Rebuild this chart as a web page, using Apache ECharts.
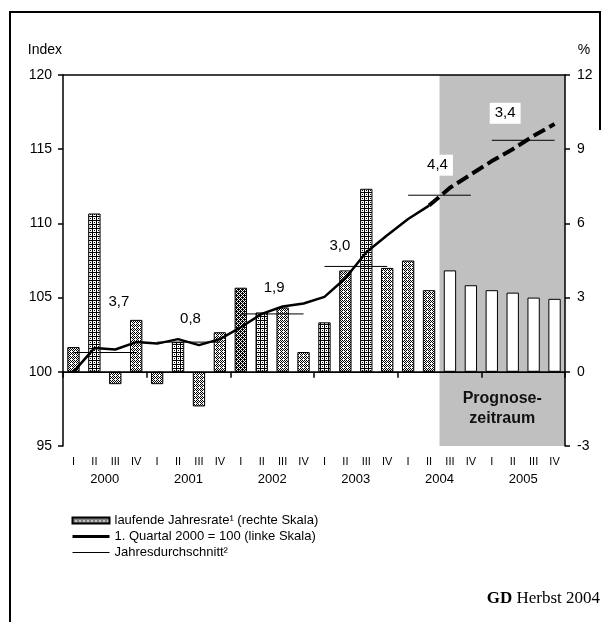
<!DOCTYPE html>
<html><head><meta charset="utf-8">
<script src="https://cdn.jsdelivr.net/npm/echarts@6/dist/echarts.min.js"></script>
<style>html,body{margin:0;padding:0;background:#fff}#c{width:608px;height:622px}</style>
</head><body><div id="c"></div>
<script>
// ---------------- data ----------------
const quarters = ['I', 'II', 'III', 'IV'];
const years = ['2000', '2001', '2002', '2003', '2004', '2005'];
// laufende Jahresrate in % (right scale), 2000 I .. 2005 IV
const growthRate = [1.0, 6.4, -0.5, 2.1, -0.5, 1.2, -1.4, 1.6, 3.4, 2.4, 2.6, 0.8,
                    2.0, 4.1, 7.4, 4.2, 4.5, 3.3, 4.1, 3.5, 3.3, 3.2, 3.0, 2.95];
// Index, 1. Quartal 2000 = 100 (left scale), actual 2000 I .. 2004 II
const indexActual = [100.0, 101.6, 101.5, 102.0, 101.9, 102.2, 101.8, 102.2, 103.0, 103.9, 104.4, 104.6,
                     105.05, 106.3, 108.05, 109.2, 110.3, 111.2];
// Index forecast, 2004 II .. 2005 IV
const indexForecast = [111.2, 112.4, 113.3, 114.2, 115.0, 115.9, 116.7];
// Jahresdurchschnitt (left scale) and annual growth labels
const annualAvg = [101.3, 102.0, 103.9, 107.1, 111.9, 115.6];
const annualGrowth = ['3,7', '0,8', '1,9', '3,0', '4,4', '3,4'];
const leftTicks = { min: 95, max: 120, interval: 5 };
const rightTicks = { min: -3, max: 12, interval: 3 };
const forecastStart = 18; // first forecast quarter: 2004 III

// ---------------- build ----------------
const categories = [];
years.forEach(y => quarters.forEach(q => categories.push(y + ' ' + q)));
const nQ = categories.length;

function makePattern(rows) {
  const c = document.createElement('canvas');
  c.width = rows[0].length; c.height = rows.length;
  const ctx = c.getContext('2d');
  ctx.fillStyle = '#fff'; ctx.fillRect(0, 0, c.width, c.height);
  ctx.fillStyle = '#000';
  rows.forEach((r, y) => { for (let x = 0; x < r.length; x++) if (r[x] === 'x') ctx.fillRect(x, y, 1, 1); });
  return { image: c, repeat: 'repeat' };
}
const dotPat = makePattern(['x.x.', '.x.x', 'x.x.', '.x..']);
const gridPat = makePattern(['xxxx', 'x...', 'x.x.', 'x...']);
const darkPat = makePattern(['x.x.', '.xxx', 'x.x.', 'xx.x']);
const gridBars = [1, 5, 9, 12, 14];
const darkBars = [8];

const barName = 'laufende Jahresrate\u00b9 (rechte Skala)';
const lineName = '1. Quartal 2000 = 100 (linke Skala)';
const avgName = 'Jahresdurchschnitt\u00b2';

const font = 'Liberation Sans, Arial, sans-serif';
const labelOffsets = [[14, -51], [2, -23], [2, -26], [-16, -21], [-2, -30], [-18, -27]];

const dashedData = categories.map((c, i) => i >= forecastStart - 1 ? indexForecast[i - (forecastStart - 1)] : null);

const series = [];
// forecast shading
series.push({
  type: 'line', xAxisIndex: 2, yAxisIndex: 0, z: 1, silent: true,
  data: [[forecastStart, leftTicks.min]], symbol: 'none', lineStyle: { opacity: 0 },
  markArea: {
    silent: true,
    itemStyle: { color: '#c0c0c0' },
    label: {
      show: true, position: 'insideBottom', distance: 17,
      formatter: 'Prognose-\nzeitraum', fontWeight: 'bold', fontSize: 16, lineHeight: 20,
      color: '#111', fontFamily: font
    },
    data: [[{ xAxis: forecastStart, yAxis: leftTicks.min }, { xAxis: nQ, yAxis: leftTicks.max }]]
  }
});
// bars
series.push({
  type: 'bar', name: barName, xAxisIndex: 0, yAxisIndex: 1, z: 2, barWidth: '59%',
  itemStyle: { color: dotPat, borderColor: '#000', borderWidth: 1 },
  data: growthRate.map((v, i) => ({
    value: v,
    itemStyle: {
      color: i >= forecastStart ? '#fff' : gridBars.includes(i) ? gridPat : darkBars.includes(i) ? darkPat : dotPat
    }
  })),
  markLine: {
    silent: true, symbol: 'none', label: { show: false },
    lineStyle: { color: '#000', width: 1, type: 'solid' },
    data: [{ yAxis: 0 }]
  }
});
// index line
series.push({
  type: 'line', name: lineName, xAxisIndex: 0, yAxisIndex: 0, z: 4,
  data: indexActual, symbol: 'none', itemStyle: { color: '#000' },
  lineStyle: { color: '#000', width: 2.5 }
});
series.push({
  type: 'line', name: 'Prognose', xAxisIndex: 0, yAxisIndex: 0, z: 4,
  data: dashedData, symbol: 'none', itemStyle: { color: '#000' },
  lineStyle: { color: '#000', width: 4, type: [13, 5] }
});
// annual averages
annualAvg.forEach((v, i) => {
  series.push({
    type: 'line', name: avgName, xAxisIndex: 2, yAxisIndex: 0, z: 4,
    data: [[i * 4 + 0.5, v], [i * 4 + 3.5, v]], symbol: 'none', itemStyle: { color: '#000' },
    lineStyle: { color: '#000', width: 1 }
  });
});
// annual growth labels
series.push({
  type: 'scatter', name: 'labels', xAxisIndex: 2, yAxisIndex: 0, z: 5, silent: true,
  symbolSize: 1, itemStyle: { color: 'rgba(0,0,0,0)', opacity: 1 },
  label: { show: true, position: 'inside', fontSize: 15, color: '#000', fontFamily: font },
  data: annualAvg.map((v, i) => ({
    value: [i * 4 + 2, v],
    label: {
      show: true, position: 'inside', offset: labelOffsets[i],
      formatter: annualGrowth[i], fontSize: 15, color: '#000', fontFamily: font,
      backgroundColor: i >= 4 ? '#fff' : 'transparent', padding: i >= 4 ? [3, 5] : 0
    }
  }))
});

const axisLineStyle = { show: true, lineStyle: { color: '#000', width: 1.5 } };
const noSymbol = { color: 'rgba(0,0,0,0)', borderWidth: 0 };
const option = {
  animation: false,
  backgroundColor: '#fff',
  textStyle: { fontFamily: font, color: '#000' },
  grid: { left: 63, right: 43, top: 75, bottom: 176 },
  legend: {
    orient: 'vertical', left: 66, top: 509, itemGap: 3, itemWidth: 37, itemHeight: 6,
    textStyle: { fontSize: 13, color: '#000', fontFamily: font },
    data: [
      { name: barName, icon: 'rect' },
      { name: lineName, itemStyle: noSymbol, lineStyle: { width: 3, color: '#000' } },
      { name: avgName, itemStyle: noSymbol, lineStyle: { width: 1, color: '#000' } }
    ]
  },
  xAxis: [
    {
      type: 'category', data: categories, position: 'bottom', z: 10,
      axisLine: axisLineStyle,
      axisTick: { show: true, interval: i => i % 4 === 0, length: 6, lineStyle: { color: '#000', width: 1.5 } },
      axisLabel: { interval: 0, formatter: v => v.split(' ')[1], fontSize: 11, margin: 10, color: '#000' },
      splitLine: { show: false }
    },
    {
      type: 'category', data: years, position: 'bottom', z: 10,
      axisLine: { show: false }, axisTick: { show: false },
      axisLabel: { fontSize: 13, margin: 27, color: '#000' }
    },
    {
      type: 'value', min: 0, max: nQ, position: 'top', z: 10,
      axisLine: axisLineStyle, axisTick: { show: false }, axisLabel: { show: false }, splitLine: { show: false }
    }
  ],
  yAxis: [
    {
      type: 'value', min: leftTicks.min, max: leftTicks.max, interval: leftTicks.interval, position: 'left', z: 10,
      axisLine: axisLineStyle,
      axisTick: { show: true, length: 5, lineStyle: { color: '#000', width: 1.5 } },
      axisLabel: { fontSize: 14, margin: 11, color: '#000' },
      splitLine: { show: false }
    },
    {
      type: 'value', min: rightTicks.min, max: rightTicks.max, interval: rightTicks.interval, position: 'right', z: 10,
      axisLine: axisLineStyle,
      axisTick: { show: true, length: 5, lineStyle: { color: '#000', width: 1.5 } },
      axisLabel: { fontSize: 14, margin: 12, color: '#000' },
      splitLine: { show: false }
    }
  ],
  graphic: [
    { type: 'polyline', shape: { points: [[10, 622], [10, 12], [600, 12], [600, 130]] }, style: { stroke: '#000', lineWidth: 2, fill: null } },
    { type: 'text', x: 62, y: 50, style: { text: 'Index', font: '14px ' + font, fill: '#000', align: 'right', verticalAlign: 'middle' } },
    { type: 'text', x: 584, y: 50, style: { text: '%', font: '14px ' + font, fill: '#000', align: 'center', verticalAlign: 'middle' } },
    {
      type: 'text', x: 600, y: 599,
      style: {
        text: '{b|GD} Herbst 2004', font: '17px Liberation Serif, Times New Roman, serif', fill: '#000',
        align: 'right', verticalAlign: 'middle',
        rich: { b: { fontWeight: 'bold', fontSize: 17, fontFamily: 'Liberation Serif, Times New Roman, serif' } }
      }
    }
  ],
  series: series
};

const chart = echarts.init(document.getElementById('c'));
chart.setOption(option);
</script>
</body></html>
